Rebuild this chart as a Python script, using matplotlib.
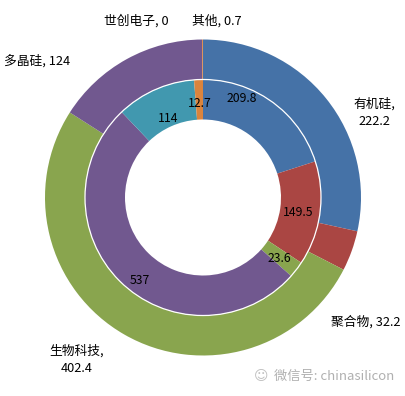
import numpy as np
import matplotlib.pyplot as plt

plt.rcParams['font.family'] = ['Noto Sans CJK SC', 'DejaVu Sans']

# outer ring
outer_names = ["有机硅", "聚合物", "生物科技", "多晶硅", "世创电子", "其他"]
outer_vals = [222.2, 32.2, 402.4, 124, 0, 0.7]
outer_colors = ["#4572A7", "#AA4643", "#89A54E", "#71588F", "#4198AF", "#DB843D"]

# inner ring
inner_vals = [209.8, 149.5, 23.6, 537, 114, 12.7]
inner_colors = ["#4572A7", "#AA4643", "#89A54E", "#71588F", "#4198AF", "#DB843D"]

W, H = 406, 396
fig = plt.figure(figsize=(W / 100, H / 100), dpi=100)
ax = fig.add_axes([0, 0, 1, 1])

cx, cy = 203, H - 197.5
R_out, R_mid, R_in = 158, 118, 78

ax.pie(outer_vals, radius=R_out, center=(cx, cy), colors=outer_colors,
       startangle=90, counterclock=False,
       wedgeprops=dict(width=R_out - R_mid, linewidth=0))
ax.pie(inner_vals, radius=R_mid, center=(cx, cy), colors=inner_colors,
       startangle=90, counterclock=False,
       wedgeprops=dict(width=R_mid - R_in, linewidth=0))
ring = plt.Circle((cx, cy), R_mid, fill=False, edgecolor="white", linewidth=0.9)
ax.add_patch(ring)

# inner value labels at mid angles (a few nudged like the original)
tot = sum(inner_vals)
cum = np.cumsum([0] + inner_vals)
nudge = {0: (21, 108), 3: (218, 103), 4: (337, 88)}
for i, v in enumerate(inner_vals):
    mid = (cum[i] + cum[i + 1]) / 2 / tot * 360
    r = 96
    if i in nudge:
        mid, r = nudge[i]
    a = np.radians(90 - mid)
    ax.text(cx + r * np.cos(a), cy + r * np.sin(a) - 2, f"{v:g}",
            ha="center", va="center", fontsize=8.8, color="black")

# outer labels (name, value), placed outside the ring
label_pos = [(374, 97, True), (366, 322, False), (77, 344, True),
             (37, 61, False), (136, 21, False), (217, 21, False)]
for name, v, (x, y, two) in zip(outer_names, outer_vals, label_pos):
    txt = f"{name},\n{v:g}" if two else f"{name}, {v:g}"
    ax.text(x, H - y, txt, ha="center", va="top" if two else "center",
            fontsize=9.2, color="black", linespacing=1.5)

ax.text(394, H - 376, "微信号: chinasilicon", ha="right", va="center",
        fontsize=9.5, color="#b0b0b0")
ax.text(261, H - 376, "☺", ha="center", va="center",
        fontsize=10, color="#c0c0c0")

ax.set_xlim(0, W)
ax.set_ylim(0, H)
ax.set_aspect("equal")
ax.axis("off")
fig.savefig("out.png", dpi=100, facecolor="white")
